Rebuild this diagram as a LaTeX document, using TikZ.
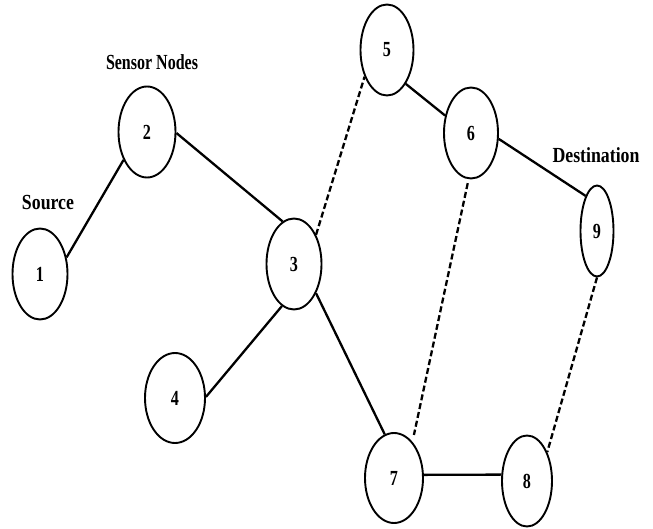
\documentclass[tikz,border=0pt]{standalone}
\usepackage{fontspec}
\usepackage{graphicx}
\setmainfont{Liberation Serif}
\usetikzlibrary{shapes.geometric}
\newcommand{\digitlbl}[1]{\scalebox{0.75}[1]{#1}}
\tikzset{
  sensor/.style={ellipse, draw=black, line width=1.9pt, inner sep=0pt,
    minimum width=55pt, minimum height=91pt,
    font=\fontsize{21.5}{21.5}\selectfont\bfseries},
  link/.style={draw=black, line width=2.3pt},
  weaklink/.style={draw=black, line width=2.3pt, dash pattern=on 6pt off 3pt},
  caption/.style={font=\fontsize{21.5}{21.5}\selectfont\bfseries, inner sep=0pt}
}
\begin{document}
\begin{tikzpicture}[x=1pt,y=-1pt]
\useasboundingbox (0,0) rectangle (653,529);

\node[sensor] (n1) at (40,274) {\digitlbl{1}};
\node[sensor, minimum width=57pt] (n2) at (147,132) {\digitlbl{2}};
\node[sensor] (n3) at (294,264) {\digitlbl{3}};
\node[sensor, minimum width=60pt, minimum height=90pt] (n4) at (175,398) {\digitlbl{4}};
\node[sensor, minimum width=53pt] (n5) at (387,50) {\digitlbl{5}};
\node[sensor, minimum width=54pt] (n6) at (471,133) {\digitlbl{6}};
\node[sensor, minimum width=58pt, minimum height=90pt] (n7) at (394,478) {\digitlbl{7}};
\node[sensor, minimum width=50pt] (n8) at (527,481) {\digitlbl{8}};
\node[sensor, minimum width=33pt] (n9) at (597,231) {\digitlbl{9}};

\node[caption] (lsensor) at (152,62) {\resizebox{92pt}{\height}{Sensor Nodes}};
\node[caption] (lsource) at (48,203) {\resizebox{52pt}{\height}{Source}};
\node[caption] (ldest) at (596,155) {\resizebox{87pt}{\height}{Destination}};

\draw[link] (n1.32) -- (n2.-130);
\draw[link] (n2.-2) -- (n3.105);
\draw[weaklink] (n3.53) -- (n5.-130);
\draw[link] (n5.-61) -- (n6.146);
\draw[link] (n6.-12) -- (n9.108);
\draw[weaklink, shorten <=4pt, shorten >=7pt] (n6.-93) -- (n7.63);
\draw[weaklink] (n9.-90) -- (n8.55);
\draw[link] (n3.-106) -- (n4.2);
\draw[link] (n3.-53) -- (n7.102);
\draw[link] (n7.6) -- (n8.166);
\end{tikzpicture}
\end{document}
